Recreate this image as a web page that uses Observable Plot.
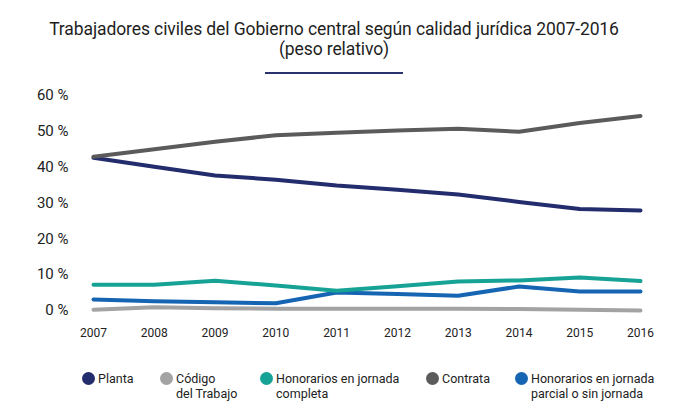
<!DOCTYPE html>
<html>
<head>
<meta charset="utf-8">
<script src="https://cdn.jsdelivr.net/npm/d3@7"></script>
<script src="https://cdn.jsdelivr.net/npm/@observablehq/plot@0.6"></script>
<style>
  body { margin: 0; background: #fff; font-family: Roboto, "Liberation Sans", sans-serif; color: #222; }
  #wrap { position: relative; width: 682px; height: 418px; }
  #title { position: absolute; top: 19px; left: -7px; width: 682px; text-align: center; font-size: 17.5px; line-height: 20px; color: #1e1e1e; letter-spacing: -0.1px; }
  #rule { position: absolute; top: 72px; left: 265px; width: 138px; height: 2px; background: #2b3270; }
  #chart { position: absolute; top: 80px; left: 0; }
  .lg { position: absolute; top: 371px; font-size: 12.5px; line-height: 15px; color: #222; }
  .lg .dot { position: absolute; left: -16px; top: 1px; width: 13px; height: 13px; border-radius: 50%; }
</style>
</head>
<body>
<div id="wrap">
  <div id="title">Trabajadores civiles del Gobierno central según calidad jurídica 2007-2016<br>(peso relativo)</div>
  <div id="rule"></div>
  <div id="chart"></div>
  <div id="legend"></div>
</div>
<script>
const years = [2007, 2008, 2009, 2010, 2011, 2012, 2013, 2014, 2015, 2016];
const planta = [42.6, 40.1, 37.7, 36.5, 34.9, 33.7, 32.4, 30.3, 28.3, 27.9];
const codigoTrabajo = [0.2, 0.9, 0.6, 0.5, 0.5, 0.5, 0.5, 0.4, 0.2, 0.0];
const honorariosCompleta = [7.2, 7.2, 8.3, 7.0, 5.5, 6.8, 8.1, 8.4, 9.2, 8.2];
const contrata = [42.9, 45.0, 47.1, 48.9, 49.6, 50.2, 50.7, 49.9, 52.3, 54.3];
const honorariosParcial = [3.1, 2.6, 2.3, 2.0, 5.0, 4.6, 4.1, 6.7, 5.3, 5.3];

const seriesNames = ["Planta", "Código del Trabajo", "Honorarios en jornada completa", "Contrata", "Honorarios en jornada parcial o sin jornada"];
const legendLabels = ["Planta", "Código<br>del Trabajo", "Honorarios en jornada<br>completa", "Contrata", "Honorarios en jornada<br>parcial o sin jornada"];
const seriesColors = ["#232c6c", "#a3a3a3", "#17a296", "#5b5b5b", "#1565b3"];
const seriesValues = [planta, codigoTrabajo, honorariosCompleta, contrata, honorariosParcial];
const yTicks = [0, 10, 20, 30, 40, 50, 60];

const data = [];
seriesNames.forEach((name, i) => {
  years.forEach((yr, j) => data.push({ series: name, year: yr, value: seriesValues[i][j] }));
});
const drawOrder = [1, 4, 2, 0, 3];

const chart = Plot.plot({
  width: 682,
  height: 275,
  marginTop: 15,
  marginBottom: 45,
  marginLeft: 93,
  marginRight: 42,
  style: { fontFamily: "Roboto, sans-serif", fontSize: "12px", color: "#222", background: "transparent" },
  x: { type: "linear", domain: [2007, 2016], label: null },
  y: { domain: [0, 60], label: null },
  color: { domain: seriesNames, range: seriesColors },
  marks: [
    Plot.axisY({ ticks: yTicks, tickFormat: d => d + " %", tickSize: 0, tickPadding: 25, fontSize: 15, fill: "#222", label: null }),
    Plot.axisX({ ticks: years, tickFormat: d => String(d), tickSize: 0, tickPadding: 18, fontSize: 12, fill: "#222", label: null }),
    ...drawOrder.map(i => Plot.line(data.filter(d => d.series === seriesNames[i]), {
      x: "year", y: "value", stroke: "series", strokeWidth: 4, strokeLinecap: "round", strokeLinejoin: "round"
    }))
  ]
});
document.getElementById("chart").appendChild(chart);

const legendX = [98, 176, 276, 442, 531];
const lg = document.getElementById("legend");
legendLabels.forEach((lab, i) => {
  const el = document.createElement("div");
  el.className = "lg";
  el.style.left = legendX[i] + "px";
  el.innerHTML = `<span class="dot" style="background:${seriesColors[i]}"></span>${lab}`;
  lg.appendChild(el);
});
</script>
</body>
</html>
